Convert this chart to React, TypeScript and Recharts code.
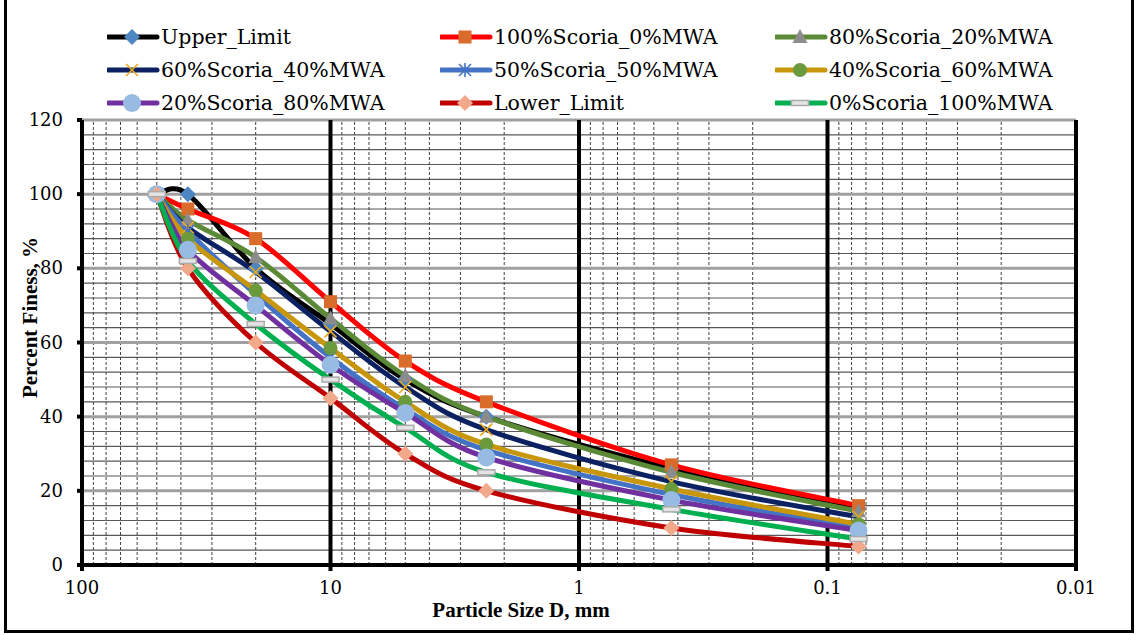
import React from "react";
import { LineChart, Line, XAxis, YAxis, ReferenceLine } from "recharts";

// sieve sizes (mm) and percent passing for each blend
const sizes = [50, 37.5, 20, 10, 5, 2.36, 0.425, 0.075];
const upperLimit = [100, 100, 80, 65, 50, 40, 26, 15];
const scoria100 = [100, 96, 88, 71, 55, 44, 27, 16];
const scoria80 = [100, 93, 83, 66.5, 51, 40, 25, 14.5];
const scoria60 = [100, 91, 79, 63, 48, 36.5, 22.5, 13];
const scoria50 = [100, 90, 73, 56, 42, 31, 19, 10];
const scoria40 = [100, 88, 74, 58.5, 44, 32.5, 20.5, 11];
const scoria20 = [100, 85, 70, 54, 41, 29, 17.5, 9.3];
const lowerLimit = [100, 80, 60, 45, 30, 20, 10, 5];
const scoria0 = [100, 82, 65, 50, 37, 25, 15, 7];

const xTicks = [100, 10, 1, 0.1, 0.01];
const yTicks = [0, 20, 40, 60, 80, 100, 120];
const yMinor = [4, 8, 12, 16, 24, 28, 32, 36, 44, 48, 52, 56, 64, 68, 72, 76, 84, 88, 92, 96, 104, 108, 112, 116];
const xMinor = [
  90, 80, 70, 60, 50, 40, 30, 20,
  9, 8, 7, 6, 5, 4, 3, 2,
  0.9, 0.8, 0.7, 0.6, 0.5, 0.4, 0.3, 0.2,
  0.09, 0.08, 0.07, 0.06, 0.05, 0.04, 0.03, 0.02,
];

type Marker = "diamond" | "square" | "triangle" | "x" | "star" | "circle" | "bigcircle" | "dash";

const series: { key: string; name: string; values: number[]; color: string; marker: Marker; fill: string }[] = [
  { key: "upper", name: "Upper_Limit", values: upperLimit, color: "#000000", marker: "diamond", fill: "#4E86C2" },
  { key: "s100", name: "100%Scoria_0%MWA", values: scoria100, color: "#FF0000", marker: "square", fill: "#D96B2B" },
  { key: "s80", name: "80%Scoria_20%MWA", values: scoria80, color: "#5B8A37", marker: "triangle", fill: "#8C8C8C" },
  { key: "s60", name: "60%Scoria_40%MWA", values: scoria60, color: "#0B2161", marker: "x", fill: "#E8A91A" },
  { key: "s50", name: "50%Scoria_50%MWA", values: scoria50, color: "#4472C4", marker: "star", fill: "#4472C4" },
  { key: "s40", name: "40%Scoria_60%MWA", values: scoria40, color: "#C8960A", marker: "circle", fill: "#6A9A3C" },
  { key: "s20", name: "20%Scoria_80%MWA", values: scoria20, color: "#7030A0", marker: "bigcircle", fill: "#97BBE2" },
  { key: "lower", name: "Lower_Limit", values: lowerLimit, color: "#C00000", marker: "diamond", fill: "#F2A88A" },
  { key: "s0", name: "0%Scoria_100%MWA", values: scoria0, color: "#00B050", marker: "dash", fill: "#E4E4E4" },
];

const data = sizes.map((size, i) => {
  const row: Record<string, number> = { size };
  series.forEach((s) => (row[s.key] = s.values[i]));
  return row;
});

// Excel style smoothing (Catmull-Rom as bezier)
const excelCurve = (ctx: any) => {
  let pts: [number, number][] = [];
  return {
    areaStart() {},
    areaEnd() {},
    lineStart() {
      pts = [];
    },
    lineEnd() {
      const n = pts.length;
      if (!n) return;
      ctx.moveTo(pts[0][0], pts[0][1]);
      for (let i = 0; i < n - 1; i++) {
        const p0 = pts[Math.max(0, i - 1)];
        const p1 = pts[i];
        const p2 = pts[i + 1];
        const p3 = pts[Math.min(n - 1, i + 2)];
        ctx.bezierCurveTo(
          p1[0] + (p2[0] - p0[0]) / 6,
          p1[1] + (p2[1] - p0[1]) / 6,
          p2[0] - (p3[0] - p1[0]) / 6,
          p2[1] - (p3[1] - p1[1]) / 6,
          p2[0],
          p2[1]
        );
      }
    },
    point(x: number, y: number) {
      pts.push([x, y]);
    },
  };
};

function MarkerShape({ kind, fill, cx, cy }: { kind: Marker; fill: string; cx: number; cy: number }) {
  switch (kind) {
    case "diamond":
      return <polygon points={`${cx},${cy - 8} ${cx + 8},${cy} ${cx},${cy + 8} ${cx - 8},${cy}`} fill={fill} />;
    case "square":
      return <rect x={cx - 6.5} y={cy - 6.5} width={13} height={13} fill={fill} />;
    case "triangle":
      return <polygon points={`${cx},${cy - 8} ${cx + 7.5},${cy + 6} ${cx - 7.5},${cy + 6}`} fill={fill} />;
    case "x":
      return (
        <g stroke={fill} strokeWidth={1.6}>
          <line x1={cx - 6} y1={cy - 6} x2={cx + 6} y2={cy + 6} />
          <line x1={cx - 6} y1={cy + 6} x2={cx + 6} y2={cy - 6} />
        </g>
      );
    case "star":
      return (
        <g stroke={fill} strokeWidth={1.6}>
          <line x1={cx - 6} y1={cy - 6} x2={cx + 6} y2={cy + 6} />
          <line x1={cx - 6} y1={cy + 6} x2={cx + 6} y2={cy - 6} />
          <line x1={cx} y1={cy - 7} x2={cx} y2={cy + 7} />
        </g>
      );
    case "circle":
      return <circle cx={cx} cy={cy} r={7} fill={fill} />;
    case "bigcircle":
      return <circle cx={cx} cy={cy} r={9} fill={fill} />;
    case "dash":
      return <rect x={cx - 8.5} y={cy - 2.5} width={17} height={5} fill={fill} stroke="#ABABAB" strokeWidth={1.5} />;
  }
  return null;
}

const serifBold = "Liberation Serif, serif";
const serifText = "DejaVu Serif";

const XTick = ({ x, y, payload }: any) => (
  <text x={x} y={y + 21} textAnchor="middle" style={{ fontFamily: serifText, fontSize: 18, fill: "#000" }}>
    {String(payload.value)}
  </text>
);

const YTick = ({ x, y, payload }: any) => (
  <text x={x - 4} y={y + 6} textAnchor="end" style={{ fontFamily: serifText, fontSize: 18, fill: "#000" }}>
    {String(payload.value)}
  </text>
);

function LegendBox() {
  const cols = [107, 440, 775];
  const rows = [37, 70, 103];
  return (
    <>
      {series.map((s, i) => (
        <div
          key={s.key}
          style={{
            position: "absolute",
            left: cols[i % 3],
            top: rows[Math.floor(i / 3)] - 14,
            height: 28,
            display: "flex",
            alignItems: "center",
            fontFamily: serifText,
            fontSize: 20.5,
            color: "#000",
            whiteSpace: "nowrap",
          }}
        >
          <svg width={54} height={28}>
            <line x1={1} y1={14} x2={50} y2={14} stroke={s.color} strokeWidth={5} strokeLinecap="round" />
            <MarkerShape kind={s.marker} fill={s.fill} cx={25} cy={14} />
          </svg>
          <span>{s.name}</span>
        </div>
      ))}
    </>
  );
}

export default function App() {
  return (
    <div style={{ position: "relative", width: 1136, height: 635, background: "#fff", overflow: "hidden" }}>
      <style>{`body{margin:0}`}</style>
      <div
        style={{
          position: "absolute",
          left: 4,
          top: -4,
          width: 1130,
          height: 637,
          border: "3px solid #000",
          boxSizing: "border-box",
        }}
      />
      <LegendBox />
      <div style={{ position: "absolute", left: 0, top: 0 }}>
        <LineChart width={1136} height={635} data={data} margin={{ top: 120, right: 60, bottom: 0, left: 0 }}>
          <XAxis
            dataKey="size"
            type="number"
            scale="log"
            domain={[0.01, 100]}
            reversed
            allowDataOverflow
            ticks={xTicks}
            tick={<XTick />}
            tickSize={6}
            tickLine={{ stroke: "#000", strokeWidth: 4 }}
            axisLine={false}
            height={70}
            label={{
              value: "Particle Size D, mm",
              position: "center",
              dx: -58,
              dy: 10,
              style: { fontFamily: serifBold, fontSize: 21, fontWeight: "bold", fill: "#000" },
            }}
          />
          <YAxis
            type="number"
            domain={[0, 120]}
            ticks={yTicks}
            tick={<YTick />}
            tickSize={5}
            tickMargin={10}
            tickLine={{ stroke: "#000", strokeWidth: 4 }}
            axisLine={false}
            width={82}
            label={{
              value: "Percent Finess, %",
              angle: -90,
              position: "center",
              dx: -11,
              dy: -25,
              style: { fontFamily: serifBold, fontSize: 21, fontWeight: "bold", fill: "#000", textAnchor: "middle" },
            }}
          />
          {yMinor.map((v) => (
            <ReferenceLine key={`ym${v}`} y={v} stroke="#595959" strokeWidth={1.2} />
          ))}
          {xMinor.map((v) => (
            <ReferenceLine key={`xm${v}`} x={v} stroke="#404040" strokeWidth={1} strokeDasharray="3 2" />
          ))}
          {yTicks.filter((v) => v > 0).map((v) => (
            <ReferenceLine key={`yM${v}`} y={v} stroke="#A0A0A0" strokeWidth={3} />
          ))}
          {xTicks.map((v) => (
            <ReferenceLine key={`xM${v}`} x={v} stroke="#000" strokeWidth={4} />
          ))}
          <ReferenceLine y={0} stroke="#000" strokeWidth={4} />
          {series.map((s) => (
            <Line
              key={s.key}
              dataKey={s.key}
              name={s.name}
              type={excelCurve as any}
              stroke={s.color}
              strokeWidth={5}
              isAnimationActive={false}
              activeDot={false}
              dot={(p: any) => (
                <MarkerShape key={`${s.key}-${p.index}`} kind={s.marker} fill={s.fill} cx={p.cx} cy={p.cy} />
              )}
            />
          ))}
        </LineChart>
      </div>
    </div>
  );
}
